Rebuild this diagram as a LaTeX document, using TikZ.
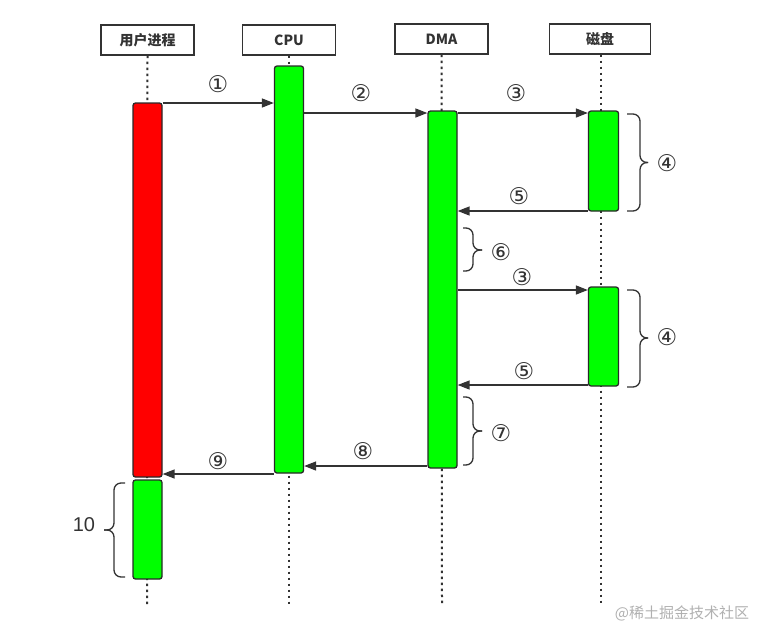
\documentclass[tikz,border=0pt]{standalone}
\usepackage{fontspec}
\setmainfont{DejaVu Sans}
\newfontfamily\cjkfont{Noto Sans CJK SC}
\newfontfamily\numfont{Liberation Sans}
\usetikzlibrary{arrows.meta}
\definecolor{ink}{HTML}{333333}
\definecolor{gbar}{HTML}{00FF00}
\definecolor{rbar}{HTML}{FF0000}
\definecolor{wm}{HTML}{B0B0B0}
\tikzset{
  hdr/.style={draw=ink, line width=1.4pt, fill=white, minimum width=93pt, minimum height=30pt, inner sep=0pt, font=\cjkfont\bfseries\fontsize{14}{16}\selectfont, text=ink},
  life/.style={draw=ink, line width=2pt, dash pattern=on 2.5pt off 3.5pt},
  bar/.style={draw=ink!80!black, line width=1.3pt, rounded corners=2.5pt, minimum width=29pt, inner sep=0pt},
  arr/.style={draw=ink, line width=1.4pt, -{Triangle[length=12pt,width=9pt]}},
  lbl/.style={font=\fontsize{23}{24}\selectfont, text=ink, inner sep=0pt},
  brc/.style={draw=ink, line width=1.3pt, rounded corners=7pt},
}
\begin{document}
\begin{tikzpicture}[x=1pt,y=-1pt]
\useasboundingbox (0,0) rectangle (759,629);
% headers
\node[hdr] (hU) at (147.5,40) {用户进程};
\node[hdr] (hC) at (289,40) {CPU};
\node[hdr] (hD) at (441.5,39) {DMA};
\node[hdr, minimum width=101pt] (hK) at (600,39) {磁盘};
% lifeline ends
\coordinate (eU) at (147,605);
\coordinate (eC) at (289,605);
\coordinate (eD) at (442,605);
\coordinate (eK) at (601,605);
\draw[life] (hU.south) -- (eU);
\draw[life] (hC.south) -- (eC);
\draw[life] (hD.south) -- (eD);
\draw[life] (hK.south -| eK) -- (eK);
% bars
\node[bar, fill=rbar, minimum height=374pt] (uRed) at (147.5,290) {};
\node[bar, fill=gbar, minimum height=99pt] (uGr) at (147.5,529.5) {};
\node[bar, fill=gbar, minimum height=407pt] (cpu) at (289,269.5) {};
\node[bar, fill=gbar, minimum height=357pt] (dma) at (442.5,289.5) {};
\node[bar, fill=gbar, minimum width=30pt, minimum height=100pt] (dk1) at (603.5,161) {};
\node[bar, fill=gbar, minimum width=30pt, minimum height=99pt] (dk2) at (603.5,336.5) {};
% arrows
\draw[arr] (uRed.east |- 0,103) -- (cpu.west |- 0,103);
\draw[arr] (cpu.east |- 0,113) -- (dma.west |- 0,113);
\draw[arr] (dma.east |- 0,113) -- (dk1.west |- 0,113);
\draw[arr] (dk1.west |- 0,211) -- (dma.east |- 0,211);
\draw[arr] (dma.east |- 0,290) -- (dk2.west |- 0,290);
\draw[arr] (dk2.west |- 0,385) -- (dma.east |- 0,385);
\draw[arr] (dma.west |- 0,466) -- (cpu.east |- 0,466);
\draw[arr] (cpu.west |- 0,474) -- (uRed.east |- 0,474);
% labels
\node[lbl] (l1) at (218,84) {①};
\node[lbl] (l2) at (361,93) {②};
\node[lbl] (l3a) at (516,93) {③};
\node[lbl] (l5a) at (519,196) {⑤};
\node[lbl] (l3b) at (522,277) {③};
\node[lbl] (l5b) at (524,371) {⑤};
\node[lbl] (l8) at (363,451) {⑧};
\node[lbl] (l9) at (218,461) {⑨};
% braces (right-facing)
\draw[brc] (627,114) -- (640,114) -- (640,162.5) -- (648,162.5);
\draw[brc] (648,162.5) -- (640,162.5) -- (640,211) -- (627,211);
\node[lbl] (l4a) at (667,163) {④};
\draw[brc] (627,290) -- (640,290) -- (640,338) -- (648,338);
\draw[brc] (648,338) -- (640,338) -- (640,387) -- (627,387);
\node[lbl] (l4b) at (667,337) {④};
\draw[brc] (463,228) -- (473,228) -- (473,250) -- (482,250);
\draw[brc] (482,250) -- (473,250) -- (473,271) -- (463,271);
\node[lbl] (l6) at (501,252) {⑥};
\draw[brc] (463,397) -- (473,397) -- (473,431) -- (482,431);
\draw[brc] (482,431) -- (473,431) -- (473,465) -- (463,465);
\node[lbl] (l7) at (501,433) {⑦};
% brace (left-facing)
\draw[brc] (125,483) -- (114,483) -- (114,530) -- (104,530);
\draw[brc] (104,530) -- (114,530) -- (114,577) -- (125,577);
\node[font=\numfont\fontsize{20}{22}\selectfont, text=ink, inner sep=0pt] (l10) at (84,525) {10};
% watermark
\node[font=\cjkfont\fontsize{15}{16}\selectfont, text=wm, inner sep=0pt] (wmk) at (682,613) {@稀土掘金技术社区};
\end{tikzpicture}
\end{document}
